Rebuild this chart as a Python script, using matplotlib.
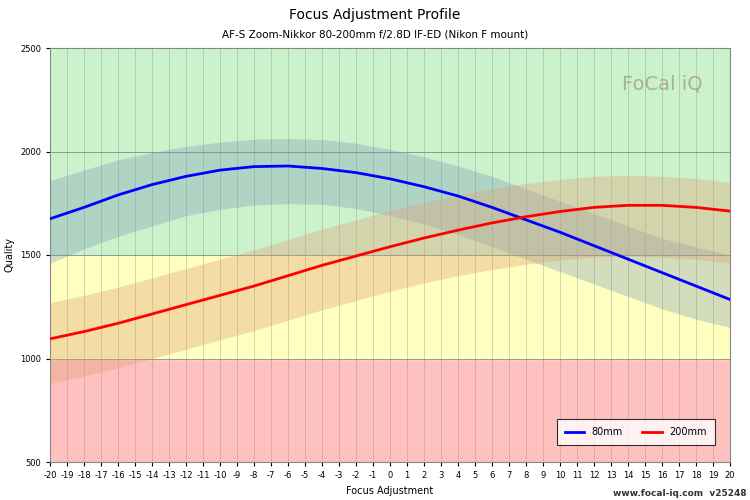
import matplotlib
matplotlib.use("Agg")
import matplotlib.pyplot as plt

plt.rcParams["axes.unicode_minus"] = False

x = [-20, -18, -16, -14, -12, -10, -8, -6, -4, -2, 0, 2, 4, 6, 8, 10, 12, 14, 16, 18, 20]

blue = [1675, 1730, 1790, 1840, 1880, 1910, 1927, 1930, 1918, 1898, 1868,
        1830, 1785, 1730, 1670, 1610, 1545, 1480, 1415, 1350, 1285]
blue_hi = [1860, 1910, 1960, 1995, 2025, 2045, 2060, 2063, 2058, 2040, 2010,
           1975, 1930, 1880, 1820, 1760, 1700, 1640, 1580, 1540, 1500]
blue_lo = [1460, 1530, 1590, 1640, 1690, 1720, 1742, 1748, 1745, 1725, 1690,
           1650, 1600, 1540, 1480, 1420, 1360, 1300, 1240, 1190, 1150]

red = [1095, 1130, 1170, 1215, 1260, 1305, 1350, 1400, 1450, 1495, 1540,
       1582, 1620, 1655, 1685, 1710, 1730, 1740, 1740, 1730, 1712]
red_hi = [1270, 1305, 1345, 1390, 1435, 1480, 1525, 1575, 1625, 1670, 1715,
          1755, 1790, 1820, 1845, 1865, 1880, 1885, 1880, 1870, 1850]
red_lo = [880, 915, 955, 1000, 1045, 1090, 1135, 1185, 1235, 1280, 1325,
          1365, 1400, 1430, 1455, 1475, 1490, 1495, 1490, 1480, 1460]

fig = plt.figure(figsize=(7.5, 5), dpi=100)
ax = fig.add_axes([50 / 750, 38 / 500, 680 / 750, 414 / 500])

ax.axhspan(500, 1000, color="#ffc0c0", zorder=0)
ax.axhspan(1000, 1500, color="#ffffc0", zorder=0)
ax.axhspan(1500, 2500, color="#ccf2cc", zorder=0)
for v in range(-20, 21):
    ax.axvline(v, color="#999999", lw=0.5, alpha=0.6, zorder=1)
for h in (1000, 1500, 2000):
    ax.axhline(h, color="#888888", lw=0.6, zorder=1)

ax.fill_between(x, blue_lo, blue_hi, color="#7090b0", alpha=0.3, lw=0, zorder=2)
ax.fill_between(x, red_lo, red_hi, color="#e0a070", alpha=0.35, lw=0, zorder=2)
ax.plot(x, blue, color="#0000ff", lw=2, zorder=3, label="80mm")
ax.plot(x, red, color="#ff0000", lw=2, zorder=3, label="200mm")

ax.set_xlim(-20, 20)
ax.set_ylim(500, 2500)
ax.set_xticks(range(-20, 21))
ax.set_yticks([500, 1000, 1500, 2000, 2500])
ax.tick_params(labelsize=6, length=3)
ax.set_xlabel("Focus Adjustment", fontsize=7)
ax.set_ylabel("Quality", fontsize=7)
for s in ax.spines.values():
    s.set_color("#888888")

leg = ax.legend(loc="lower right", ncol=2, fontsize=7, frameon=True,
                fancybox=False, edgecolor="black", borderpad=0.8,
                columnspacing=2, bbox_to_anchor=(0.985, 0.03))
leg.get_frame().set_linewidth(0.8)

fig.text(0.5, 0.962, "Focus Adjustment Profile", ha="center", fontsize=10)
fig.text(0.5, 0.925, "AF-S Zoom-Nikkor 80-200mm f/2.8D IF-ED (Nikon F mount)",
         ha="center", fontsize=7.5)
fig.text(0.995, 0.008, "www.focal-iq.com  v25248", ha="right", fontsize=6.5,
         fontweight="bold", color="#333333")
ax.text(0.9, 0.9, "FoCal iQ", transform=ax.transAxes, ha="center",
        fontsize=14, color="#a0a080", alpha=0.8)

fig.savefig("out.png", dpi=100)
